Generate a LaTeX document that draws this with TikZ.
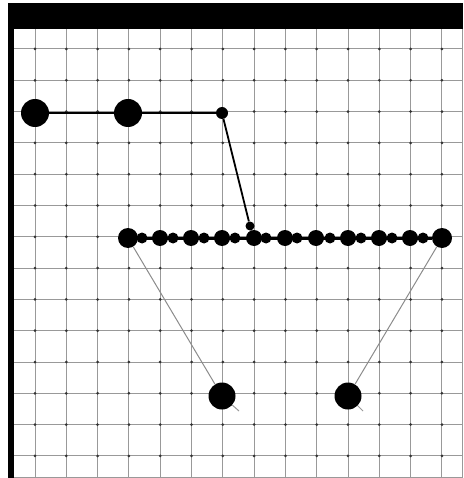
\documentclass[tikz,border=0pt]{standalone}
\begin{document}
\begin{tikzpicture}[x=1pt,y=-1pt,
  gridline/.style={draw=black!40,line width=1pt},
  gdot/.style={circle,fill=black!80,inner sep=0pt,minimum size=3pt},
  bigdot/.style={circle,fill=black,inner sep=0pt,minimum size=28pt},
  enddot/.style={circle,fill=black,inner sep=0pt,minimum size=20pt},
  middot/.style={circle,fill=black,inner sep=0pt,minimum size=16pt},
  smalldot/.style={circle,fill=black,inner sep=0pt,minimum size=11pt},
  tinydot/.style={circle,fill=black,inner sep=0pt,minimum size=9pt},
  thinlink/.style={draw=black!45,line width=1pt},
  thicklink/.style={draw=black,line width=1.4pt}]
\useasboundingbox (0,0) rectangle (463,478);
\fill[white] (0,0) rectangle (463,478);
% grid
\foreach \k in {0,...,13}{
  \draw[gridline] (14,{49+31.3*\k}) -- (463,{49+31.3*\k});
  \draw[gridline] ({35+31.3*\k},29) -- ({35+31.3*\k},478);
}
\draw[gridline] (14,477) -- (463,477);
\draw[gridline] (462,29) -- (462,478);
\foreach \i in {0,...,13}{
  \foreach \k in {0,...,13}{
    \node[gdot] at ({35+31.3*\i},{49+31.3*\k}) {};
  }
}
% frame
\fill[black] (8,3) rectangle (463,29);
\fill[black] (8,29) rectangle (14,478);
% top chain
\node[bigdot] (a) at (35,113) {};
\node[bigdot] (b) at (128,113) {};
\node[tinydot,minimum size=12pt] (c) at (222,113) {};
\draw[thicklink] (a) -- (b);
\draw[thicklink] (b) -- (c);
% row
\node[enddot] (r3) at (128,238) {};
\node[middot] (r4) at (160,238) {};
\node[middot] (r5) at (191,238) {};
\node[middot] (r6) at (222,238) {};
\node[middot] (r7) at (254,238) {};
\node[middot] (r8) at (285,238) {};
\node[middot] (r9) at (316,238) {};
\node[middot] (r10) at (348,238) {};
\node[middot] (r11) at (379,238) {};
\node[middot] (r12) at (410,238) {};
\node[enddot] (r13) at (442,238) {};
\draw[draw=black,line width=3pt] (r3) -- (r13);
\foreach \x/\n in {142/m3,173/m4,204/m5,235/m6,266/m7,297/m8,330/m9,361/m10,392/m11,423/m12}{
  \node[smalldot] (\n) at (\x,238) {};
}
\node[tinydot] (j) at (250,226) {};
\draw[draw=black,line width=1.8pt] (c) -- (j) -- (r7);
% bottom
\node[bigdot,minimum size=27pt] (p) at (222,396) {};
\node[bigdot,minimum size=27pt] (q) at (348,396) {};
\draw[thinlink] (r3) -- (p);
\draw[thinlink] (r13) -- (q);
\coordinate (pt) at (239,411);
\coordinate (qt) at (363,411);
\draw[draw=black!40,line width=1pt] (p) -- (pt);
\draw[draw=black!40,line width=1pt] (q) -- (qt);
\end{tikzpicture}
\end{document}
